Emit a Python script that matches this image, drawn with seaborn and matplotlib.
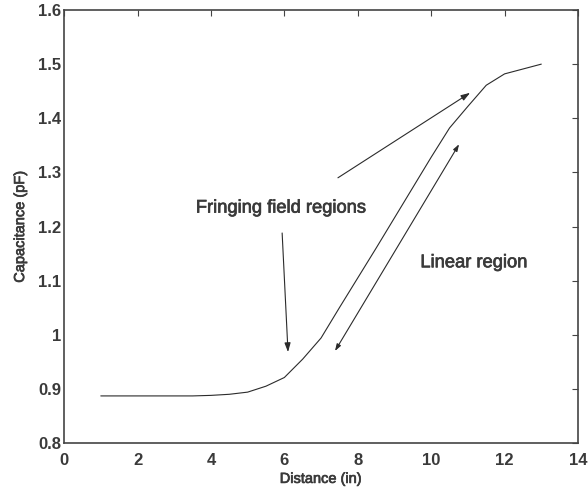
"""
Capacitance vs distance, with annotated fringing and linear regions.
"""
import numpy as np
import matplotlib
matplotlib.use("Agg")
import matplotlib.pyplot as plt
import matplotlib.patheffects as pe
import seaborn as sns
import pandas as pd

# Data
distance_in = [1, 1.5, 2, 2.5, 3, 3.5, 4, 4.5, 5, 5.5, 6, 6.5, 7,
               7.5, 8, 8.5, 9, 9.5, 10, 10.5, 11, 11.5, 12, 12.5, 13]
capacitance_pf = [0.887, 0.887, 0.887, 0.887, 0.887, 0.887, 0.888, 0.890,
                  0.894, 0.905, 0.921, 0.955, 0.994, 1.050, 1.105, 1.160,
                  1.216, 1.272, 1.328, 1.382, 1.422, 1.461, 1.482, 1.491, 1.500]

x_ticks = [0, 2, 4, 6, 8, 10, 12, 14]
y_ticks = [0.8, 0.9, 1.0, 1.1, 1.2, 1.3, 1.4, 1.5, 1.6]
y_tick_labels = ["0.8", "0.9", "1", "1.1", "1.2", "1.3", "1.4", "1.5", "1.6"]

TEXT_COLOR = "#3a3a3a"
LINE_COLOR = "#2b2b2b"

sns.set_style("white")
plt.rcParams["font.family"] = ["Liberation Sans", "DejaVu Sans"]

df = pd.DataFrame({"Distance": distance_in, "Capacitance": capacitance_pf})

fig = plt.figure(figsize=(5.88, 4.93), dpi=100)
ax = fig.add_axes([0.109, 0.1014, 0.874, 0.8783])

sns.lineplot(data=df, x="Distance", y="Capacitance", color=LINE_COLOR,
             lw=0.8, ax=ax)

ax.set_xlim(0, 14)
ax.set_ylim(0.8, 1.6)
ax.set_xticks(x_ticks)
ax.set_yticks(y_ticks)
ax.set_yticklabels(y_tick_labels)
ax.tick_params(direction="in", top=True, right=True, length=4, width=0.8,
               color="#444444", labelsize=12, labelcolor=TEXT_COLOR)
ax.tick_params(axis="x", pad=7)
ax.tick_params(axis="y", pad=2)
for lab in ax.get_xticklabels() + ax.get_yticklabels():
    lab.set_fontweight("bold")
for spine in ax.spines.values():
    spine.set_visible(True)
    spine.set_color("#444444")
    spine.set_linewidth(1.2)

# slight stroke to thicken the regular-weight text like the original
thick = [pe.withStroke(linewidth=0.5, foreground=TEXT_COLOR)]

ax.set_xlabel("Distance (in)", fontsize=10.5, color=TEXT_COLOR, labelpad=3,
              path_effects=thick)
ax.set_ylabel("Capacitance (pF)", fontsize=10.5, color=TEXT_COLOR, labelpad=8,
              path_effects=thick)

# Annotations
arrow_kw = dict(color=LINE_COLOR, lw=0.8, shrinkA=0, shrinkB=0,
                mutation_scale=9)
ax.annotate("", xy=(11.06, 1.447), xytext=(7.46, 1.290),
            arrowprops=dict(arrowstyle="-|>,head_length=0.6,head_width=0.2",
                            **arrow_kw))
ax.annotate("", xy=(6.10, 0.968), xytext=(5.94, 1.188),
            arrowprops=dict(arrowstyle="-|>,head_length=0.6,head_width=0.2",
                            **arrow_kw))
ax.annotate("", xy=(10.76, 1.352), xytext=(7.38, 0.970),
            arrowprops=dict(arrowstyle="<|-|>,head_length=0.45,head_width=0.15",
                            **arrow_kw))

ax.text(5.92, 1.234, "Fringing field regions", fontsize=13.2,
        color=TEXT_COLOR, ha="center", va="center", path_effects=thick)
ax.text(11.17, 1.133, "Linear region", fontsize=13.2,
        color=TEXT_COLOR, ha="center", va="center", path_effects=thick)

fig.savefig("out.png", dpi=100)
plt.close(fig)
